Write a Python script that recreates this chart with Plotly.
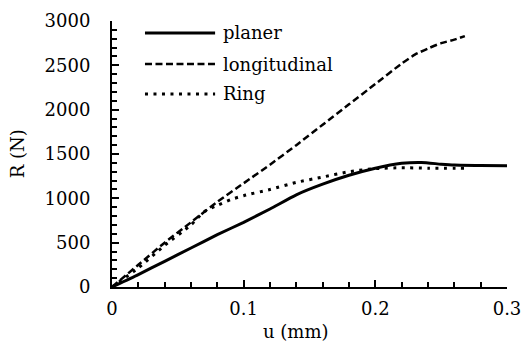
import plotly.graph_objects as go

# ---- data ----
u_planer = [0, 0.02, 0.04, 0.06, 0.08, 0.10, 0.12, 0.14, 0.16, 0.18, 0.20, 0.22, 0.235, 0.25, 0.26, 0.28, 0.30]
r_planer = [0, 140, 290, 440, 590, 730, 880, 1040, 1160, 1260, 1340, 1395, 1405, 1385, 1375, 1370, 1368]

u_long = [0, 0.02, 0.04, 0.06, 0.08, 0.10, 0.12, 0.14, 0.16, 0.18, 0.20, 0.22, 0.23, 0.24, 0.25, 0.26, 0.268]
r_long = [0, 250, 500, 730, 960, 1170, 1380, 1600, 1830, 2060, 2290, 2520, 2620, 2690, 2750, 2790, 2830]

u_ring = [0, 0.02, 0.04, 0.06, 0.07, 0.08, 0.09, 0.10, 0.12, 0.14, 0.16, 0.18, 0.20, 0.22, 0.24, 0.27]
r_ring = [0, 215, 470, 700, 850, 920, 985, 1030, 1100, 1180, 1240, 1300, 1335, 1345, 1340, 1340]

series_names = ["planer", "longitudinal", "Ring"]
x_ticks = [0, 0.1, 0.2, 0.3]
x_tick_labels = ["0", "0.1", "0.2", "0.3"]
y_ticks = [0, 500, 1000, 1500, 2000, 2500, 3000]

FONT = "DejaVu Serif"
styles = [
    dict(color="black", width=3, dash="solid"),
    dict(color="black", width=2.5, dash="7px,3.5px"),
    dict(color="black", width=3, dash="3px,5.5px"),
]

fig = go.Figure()
for (u, r), name, st in zip([(u_planer, r_planer), (u_long, r_long), (u_ring, r_ring)], series_names, styles):
    fig.add_trace(go.Scatter(x=u, y=r, mode="lines", name=name, showlegend=False, hoverinfo="skip",
                             line=dict(color=st["color"], width=st["width"], dash=st["dash"], shape="spline", smoothing=0.6)))

# manual legend (long key lines like the reference)
rows_y = [0.955, 0.838, 0.726]
for name, st, yy in zip(series_names, styles, rows_y):
    fig.add_shape(type="line", xref="paper", yref="paper", x0=0.0835, x1=0.261, y0=yy, y1=yy,
                  line=dict(color=st["color"], width=st["width"], dash=st["dash"]))
    fig.add_annotation(xref="paper", yref="paper", x=0.276, y=yy, text=name, showarrow=False,
                       xanchor="left", yanchor="middle", font=dict(family=FONT, size=18, color="black"))

# axis titles as annotations (positions taken from the reference layout)
fig.add_annotation(xref="paper", yref="paper", x=0.466, y=-0.168, text="u (mm)", showarrow=False,
                   xanchor="center", yanchor="middle", font=dict(family=FONT, size=18, color="black"))
fig.add_annotation(xref="paper", yref="paper", x=-0.24, y=0.5, text="R (N)", showarrow=False, textangle=-90,
                   xanchor="center", yanchor="middle", font=dict(family=FONT, size=18, color="black"))

axis_common = dict(showline=True, linewidth=2, linecolor="black", showgrid=False, zeroline=False,
                   ticks="inside", ticklen=7, tickwidth=1.5, tickcolor="black", ticklabeloverflow="allow",
                   automargin=False,
                   tickfont=dict(family=FONT, size=18, color="black"))

fig.update_layout(
    width=521, height=345,
    margin=dict(l=112, r=14, t=21, b=58),
    plot_bgcolor="white", paper_bgcolor="white",
    xaxis=dict(range=[0, 0.30001], tickvals=x_ticks, ticktext=x_tick_labels,
               minor=dict(dtick=0.02, tick0=0, ticks="inside", ticklen=5, tickwidth=1.5, tickcolor="black"),
               ticklabelstandoff=4,
               **axis_common),
    yaxis=dict(range=[0, 3000.1], tickvals=y_ticks,
               minor=dict(dtick=100, tick0=0, ticks="inside", ticklen=5, tickwidth=1.5, tickcolor="black"),
               ticklabelstandoff=16,
               **axis_common),
    showlegend=False,
)

fig.write_html("out.html", config={"displayModeBar": False},
               post_script="document.body.style.margin='0';document.body.style.overflow='hidden';")
